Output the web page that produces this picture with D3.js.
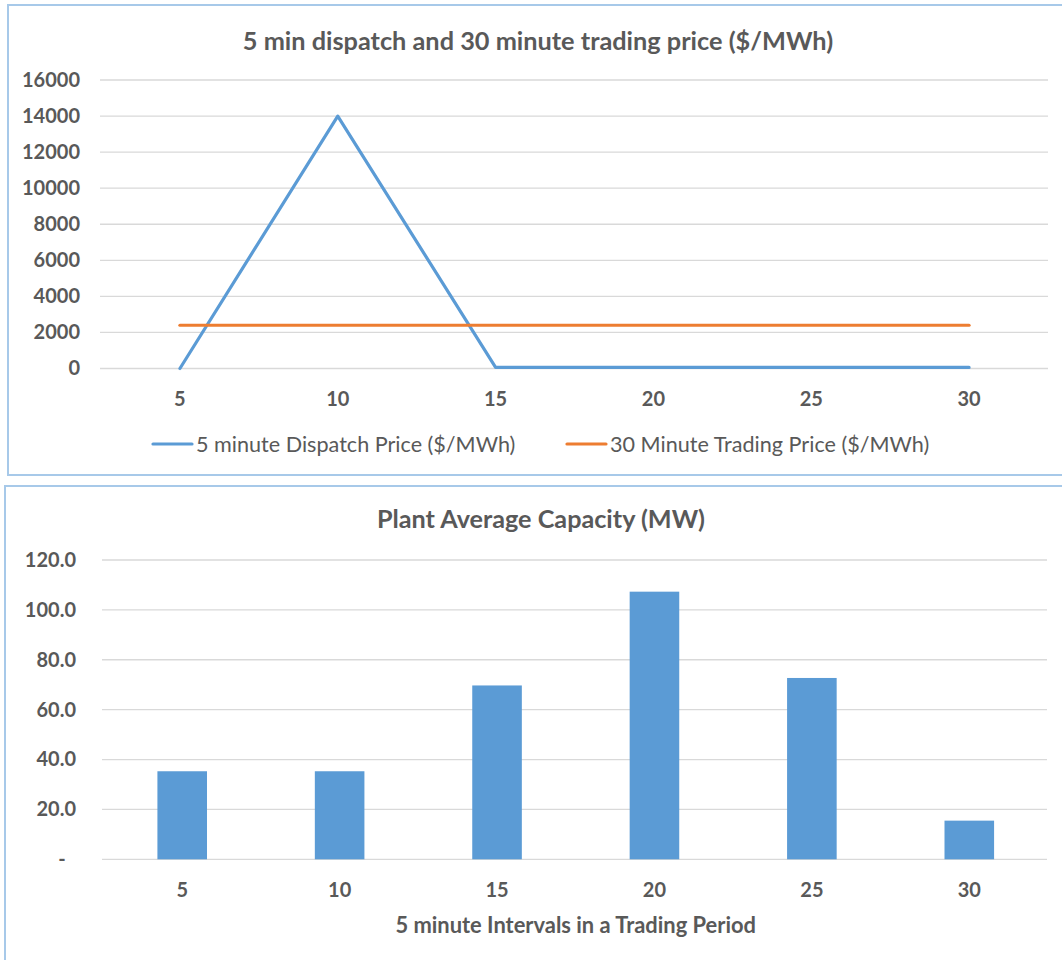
<!DOCTYPE html>
<html>
<head>
<meta charset="utf-8">
<script src="https://cdn.jsdelivr.net/npm/d3@7"></script>
<style>
  html, body { margin: 0; padding: 0; background: #fff; }
  svg { display: block; font-family: Lato, "Open Sans", sans-serif; }
</style>
</head>
<body>
<svg id="chart" width="1062" height="960"></svg>
<script>
// Five-minute intervals within one trading period
const intervals = [5, 10, 15, 20, 25, 30];

// Price series ($/MWh)
const dispatchPrice = [0, 14000, 60, 60, 60, 60];
const tradingPrice = [2400, 2400, 2400, 2400, 2400, 2400];

// Plant average capacity (MW)
const avgCapacity = [35.3, 35.3, 69.7, 107.3, 72.7, 15.5];

// Axis ticks
const priceTicks = [0, 2000, 4000, 6000, 8000, 10000, 12000, 14000, 16000];
const capacityTicks = [0, 20, 40, 60, 80, 100, 120];

const priceSeries = [
  { name: "5 minute Dispatch Price ($/MWh)", values: dispatchPrice, color: "#5B9BD5" },
  { name: "30 Minute Trading Price ($/MWh)", values: tradingPrice, color: "#ED7D31" }
];

const TEXT = "#595959";
const GRID = "#D9D9D9";
const FRAME = "#A7C9E9";

const svg = d3.select("#chart");

// ---------- panel frames ----------
svg.append("rect").attr("x", 8).attr("y", 5).attr("width", 1070).attr("height", 470)
  .attr("fill", "none").attr("stroke", FRAME).attr("stroke-width", 2);
svg.append("rect").attr("x", 5).attr("y", 486).attr("width", 1075).attr("height", 490)
  .attr("fill", "none").attr("stroke", FRAME).attr("stroke-width", 2);

// ---------- top chart: prices ----------
{
  const x = d3.scaleBand().domain(intervals).range([101, 1048]).padding(0);
  const y = d3.scaleLinear().domain([0, 16000]).range([368.5, 80]);
  const g = svg.append("g");

  g.append("text").attr("x", 538).attr("y", 40).attr("text-anchor", "middle")
    .attr("dominant-baseline", "central").attr("fill", TEXT)
    .attr("font-size", 25.3).attr("font-weight", "bold")
    .text("5 min dispatch and 30 minute trading price ($/MWh)");

  // gridlines
  g.append("g").selectAll("line").data(priceTicks).join("line")
    .attr("x1", 100).attr("x2", 1048)
    .attr("y1", d => y(d)).attr("y2", d => y(d))
    .attr("stroke", GRID).attr("stroke-width", 1.3);

  // y axis labels
  const yAxis = d3.axisLeft(y).tickValues(priceTicks).tickSize(0).tickPadding(0)
    .tickFormat(d3.format("d"));
  g.append("g").attr("transform", "translate(80,0)").call(yAxis)
    .call(s => s.select(".domain").remove())
    .selectAll("text").attr("fill", TEXT).attr("font-size", 20).attr("font-weight", "bold")
    .attr("font-family", "Lato, sans-serif");

  // x axis labels
  const xAxis = d3.axisBottom(x).tickSize(0).tickPadding(0);
  g.append("g").attr("transform", "translate(0,392)").call(xAxis)
    .call(s => s.select(".domain").remove())
    .selectAll("text").attr("fill", TEXT).attr("font-size", 20).attr("font-weight", "bold")
    .attr("font-family", "Lato, sans-serif");

  const line = d3.line()
    .x((d, i) => x(intervals[i]) + x.bandwidth() / 2)
    .y(d => y(d));

  g.selectAll("path.series").data(priceSeries).join("path")
    .attr("class", "series")
    .attr("d", d => line(d.values))
    .attr("fill", "none").attr("stroke", d => d.color)
    .attr("stroke-width", 3.2).attr("stroke-linejoin", "round").attr("stroke-linecap", "round");

  // legend
  const legendPos = [153, 567];
  const lg = g.selectAll("g.legend").data(priceSeries).join("g")
    .attr("class", "legend")
    .attr("transform", (d, i) => `translate(${legendPos[i]},444)`);
  lg.append("line").attr("x1", 0).attr("x2", 39).attr("stroke", d => d.color)
    .attr("stroke-width", 3.2).attr("stroke-linecap", "round");
  lg.append("text").attr("x", 43).attr("dominant-baseline", "central")
    .attr("fill", TEXT).attr("font-size", 21.6).text(d => d.name);
}

// ---------- bottom chart: capacity ----------
{
  const x = d3.scaleBand().domain(intervals).range([103.5, 1048]).padding(0);
  const y = d3.scaleLinear().domain([0, 120]).range([859.3, 560]);
  const g = svg.append("g");

  g.append("text").attr("x", 541).attr("y", 518).attr("text-anchor", "middle")
    .attr("dominant-baseline", "central").attr("fill", TEXT)
    .attr("font-size", 25.2).attr("font-weight", "bold")
    .text("Plant Average Capacity (MW)");

  g.append("g").selectAll("line").data(capacityTicks).join("line")
    .attr("x1", 102).attr("x2", 1047)
    .attr("y1", d => y(d)).attr("y2", d => y(d))
    .attr("stroke", GRID).attr("stroke-width", 1.3);

  const yAxis = d3.axisLeft(y).tickValues(capacityTicks).tickSize(0).tickPadding(0)
    .tickFormat(d => d === 0 ? "-" : d3.format(".1f")(d));
  const ya = g.append("g").attr("transform", "translate(76,0)").call(yAxis);
  ya.select(".domain").remove();
  ya.selectAll("text").attr("fill", TEXT).attr("font-size", 20).attr("font-weight", "bold")
    .attr("font-family", "Lato, sans-serif")
    .filter(d => d === 0).attr("text-anchor", "middle").attr("x", -14);

  const xAxis = d3.axisBottom(x).tickSize(0).tickPadding(0);
  g.append("g").attr("transform", "translate(0,883)").call(xAxis)
    .call(s => s.select(".domain").remove())
    .selectAll("text").attr("fill", TEXT).attr("font-size", 20).attr("font-weight", "bold")
    .attr("font-family", "Lato, sans-serif");

  const barW = x.bandwidth() * 0.315;
  g.selectAll("rect.bar").data(avgCapacity).join("rect")
    .attr("class", "bar")
    .attr("x", (d, i) => x(intervals[i]) + (x.bandwidth() - barW) / 2)
    .attr("width", barW)
    .attr("y", d => y(d))
    .attr("height", d => y(0) - y(d))
    .attr("fill", "#5B9BD5");

  g.append("text").attr("x", 575.7).attr("y", 924).attr("text-anchor", "middle")
    .attr("dominant-baseline", "central").attr("fill", TEXT)
    .attr("font-size", 21.9).attr("font-weight", "bold")
    .text("5 minute Intervals in a Trading Period");
}
</script>
</body>
</html>
